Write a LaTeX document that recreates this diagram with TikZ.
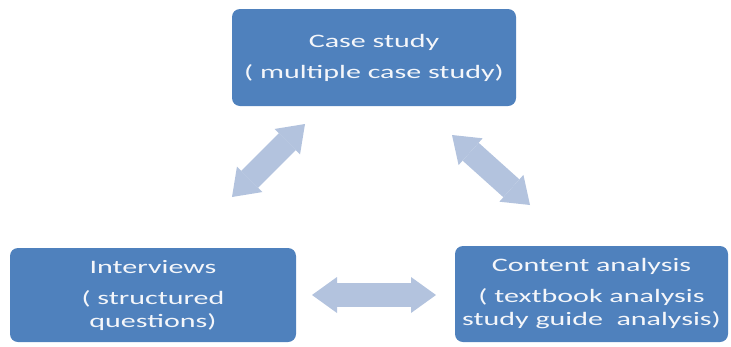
\documentclass[tikz,border=0pt]{standalone}
\usepackage{fontspec}
\newfontfamily\boxfont[FakeStretch=1.58]{Carlito}
\usetikzlibrary{arrows.meta}
\definecolor{boxblue}{HTML}{4F81BD}
\definecolor{arrowblue}{HTML}{B3C3DE}
\definecolor{boxtext}{HTML}{F4F6FA}
\tikzset{
  stagebox/.style={fill=boxblue, draw=none, rounded corners=8pt, inner sep=0pt,
    text=boxtext, align=center, font=\boxfont\fontsize{19}{23}\selectfont},
  bigarrow/.style={draw=arrowblue, line width=24pt,
    {Triangle[length=25pt,width=36pt,line width=0pt]}-{Triangle[length=25pt,width=36pt,line width=0pt]}}
}
\begin{document}
\begin{tikzpicture}[x=1pt,y=-1pt]
\useasboundingbox (0,0) rectangle (731,346);
\node[stagebox, minimum width=284pt, minimum height=97pt] (case) at (374,57.5)
  {Case study\\[8pt]( multiple case study)};
\node[stagebox, minimum width=286pt, minimum height=94pt] (interv) at (153,295)
  {Interviews\\[8pt]( structured\\questions)};
\node[stagebox, minimum width=273pt, minimum height=96pt] (content) at (591.5,294)
  {Content analysis\\[8pt]( textbook analysis\\study guide\ \ analysis)};
\coordinate (l1) at (232,197);
\coordinate (l2) at (305,124);
\coordinate (r1) at (452,135);
\coordinate (r2) at (530,205);
\coordinate (h1) at (312,295);
\coordinate (h2) at (436,295);
\draw[bigarrow] (l1) -- (l2);
\draw[bigarrow] (r1) -- (r2);
\draw[bigarrow] (h1) -- (h2);
\end{tikzpicture}
\end{document}
